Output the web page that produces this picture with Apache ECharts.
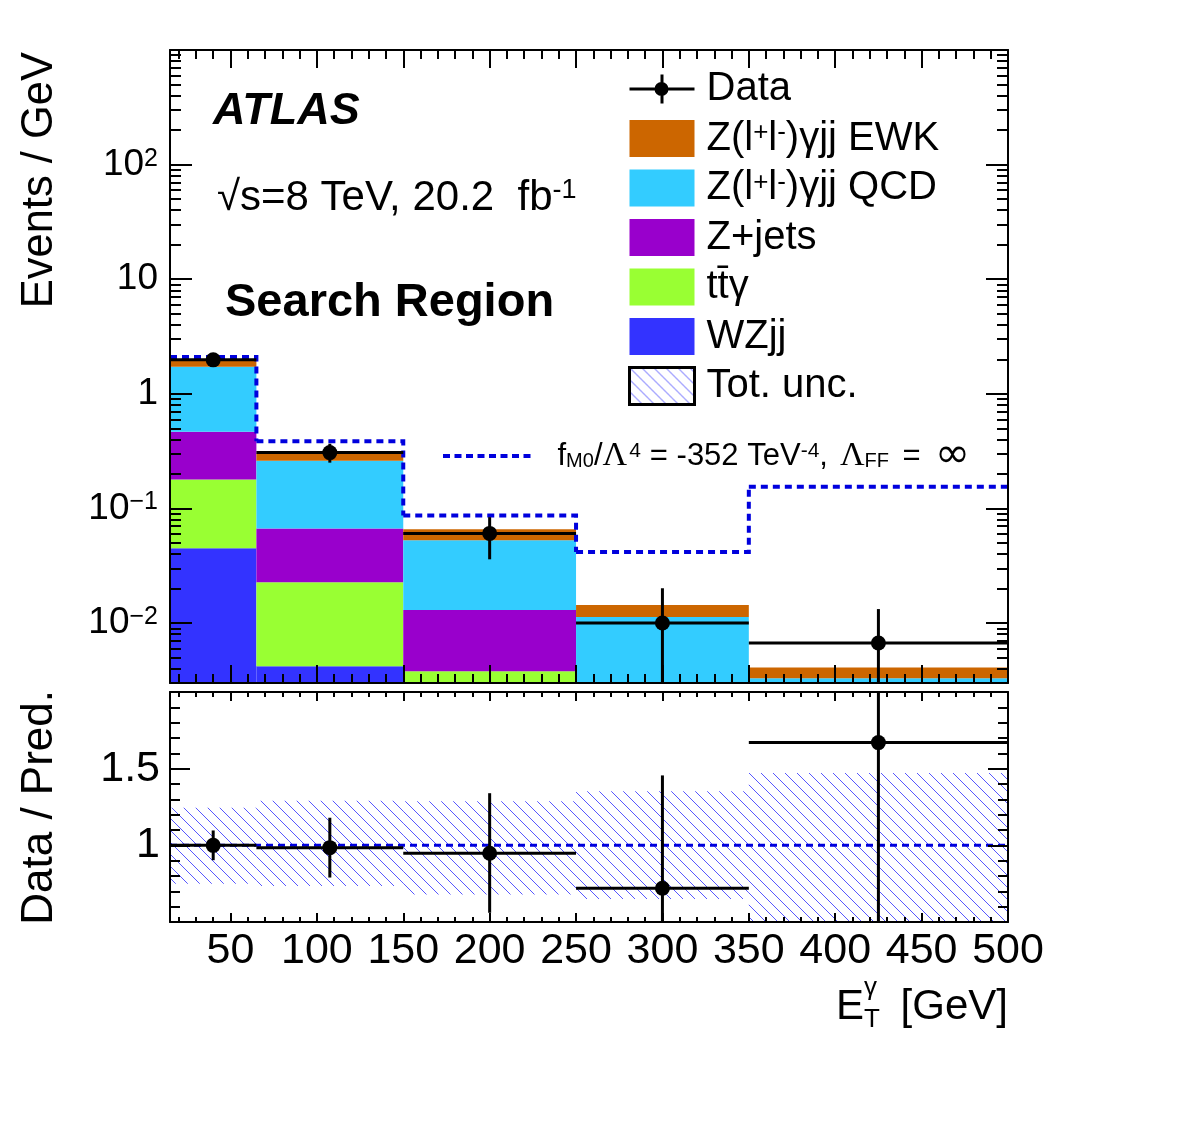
<!DOCTYPE html>
<html>
<head>
<meta charset="utf-8">
<script src="https://cdn.jsdelivr.net/npm/echarts@6/dist/echarts.min.js"></script>
<style>
  html, body { margin: 0; background: #fff; }
  #main { width: 1182px; height: 1144px; }
</style>
</head>
<body>
<div id="main"></div>
<script>
// E_T^gamma bins [GeV]
const binEdges = [15, 65, 150, 250, 350, 500];
const binCentres = [40, 107.5, 200, 300, 425];

// predictions, events / GeV, stacked bottom -> top
const wzjj    = [0.045, 0.0042, 0.001, 0.0003, 0.0001];
const ttgamma = [0.134, 0.0185, 0.0028, 0.0004, 0.0002];
const zjets   = [0.289, 0.0443, 0.0092, 0.001, 0.0004];
const zgQCD   = [1.252, 0.194, 0.0397, 0.0096, 0.0026];
const zgEWK   = [0.22, 0.039, 0.013, 0.0031, 0.0008];

// aQGC prediction, f_M0/L^4 = -352 TeV^-4
const aqgc = [2.1, 0.385, 0.0869, 0.0417, 0.155];

// data, events / GeV
const dataY  = [1.98, 0.307, 0.0606, 0.01, 0.0067];
const dataLo = [1.78, 0.251, 0.036, 0, 0];
const dataHi = [2.18, 0.367, 0.084, 0.0201, 0.01325];

// data / prediction
const ratioY  = [1.0, 0.985, 0.948, 0.72, 1.67];
const ratioLo = [0.903, 0.79, 0.56, 0, 0];
const ratioHi = [1.097, 1.18, 1.34, 1.456, 3.3];
// total uncertainty band (relative)
const uncLo = [0.75, 0.735, 0.68, 0.65, 0.45];
const uncHi = [1.245, 1.29, 1.288, 1.352, 1.472];

// ticks / labels
const xMajor = [50, 100, 150, 200, 250, 300, 350, 400, 450, 500];
const yLogMajor = [0.01, 0.1, 1, 10, 100, 1000];
const yLogLabelVals = [0.01, 0.1, 1, 10, 100];
const yLogLabelText = ['10{sup|\u22122}', '10{sup|\u22121}', '1', '10', '10{sup|2}'];
const yRatioMajor = [0.5, 1, 1.5, 2];
const yRatioLabels = [1, 1.5];

const FONT = '"Liberation Sans", Arial, Helvetica, sans-serif';
const SERIF = '"Liberation Serif", "DejaVu Serif", serif';
const BLUE = '#0000dd';
const chart = echarts.init(document.getElementById('main'));

// minor ticks (positions only)
const xMinor = [];
for (let v = 20; v < 500; v += 10) if (v % 50) xMinor.push(v);
const yLogMinor = [];
for (let e = -3; e <= 2; e++) for (let m = 2; m <= 9; m++) {
  const v = +(m * Math.pow(10, e)).toPrecision(3);
  if (v >= 0.003 && v <= 1000) yLogMinor.push(v);
}
const yRatioMinor = [];
for (let i = 6; i < 20; i++) if (i % 5) yRatioMinor.push(i / 10);

// hatch pattern for the uncertainty band
function hatch() {
  const c = document.createElement('canvas');
  c.width = 12; c.height = 12;
  const ctx = c.getContext('2d');
  ctx.strokeStyle = '#4444ff';
  ctx.lineWidth = 0.9;
  ctx.beginPath();
  ctx.moveTo(-2, -2); ctx.lineTo(14, 14);
  ctx.stroke();
  return { image: c, repeat: 'repeat' };
}
const hatchFill = hatch();

// two axes per side: one for major ticks, one for minor ticks
function sideAxes(grid, pos, o) {
  const base = {
    gridIndex: grid, position: pos, type: o.type, min: o.min, max: o.max,
    logBase: 10, splitLine: { show: false }, silent: true, z: 20
  };
  const major = Object.assign({}, base, {
    axisLine: { show: true, onZero: false, lineStyle: { color: '#000', width: 2 } },
    axisTick: { show: true, inside: true, length: o.majLen, customValues: o.majors, lineStyle: { color: '#000', width: 2 } },
    axisLabel: o.label ? o.label : { show: false }
  });
  const minor = Object.assign({}, base, {
    axisLine: { show: false },
    axisTick: { show: true, inside: true, length: o.minLen, customValues: o.minors, lineStyle: { color: '#000', width: 2 } },
    axisLabel: { show: false }
  });
  return [major, minor];
}

const xTop = { type: 'value', min: 15, max: 500, majors: xMajor, minors: xMinor, majLen: 18, minLen: 9 };
const xBot = { type: 'value', min: 15, max: 500, majors: xMajor, minors: xMinor, majLen: 9, minLen: 5 };
const yLog = { type: 'log', min: 0.003, max: 1000, majors: yLogMajor, minors: yLogMinor, majLen: 22, minLen: 11 };
const yRat = { type: 'value', min: 0.5, max: 2, majors: yRatioMajor, minors: yRatioMinor, majLen: 20, minLen: 10 };

const xLabel = {
  show: true, customValues: xMajor, margin: 8, color: '#000', fontSize: 43, fontFamily: FONT
};
const yLogLabel = {
  show: true, customValues: yLogLabelVals, margin: 12, color: '#000', fontSize: 37, fontFamily: FONT, lineHeight: 37,
  formatter: function (v) {
    const i = yLogLabelVals.findIndex(function (t) { return Math.abs(t - v) / t < 1e-6; });
    return i < 0 ? '' : yLogLabelText[i];
  },
  rich: { sup: { fontSize: 25, fontFamily: FONT, color: '#000', verticalAlign: 'top', lineHeight: 16 } }
};
const yRatLabel = {
  show: true, customValues: yRatioLabels, margin: 10, color: '#000', fontSize: 43, fontFamily: FONT,
  formatter: function (v) { return String(v); }
};

const xAxes = []
  .concat(sideAxes(0, 'bottom', xTop), sideAxes(0, 'top', xTop))
  .concat(sideAxes(1, 'bottom', Object.assign({}, xBot, { label: xLabel })), sideAxes(1, 'top', xBot));
const yAxes = []
  .concat(sideAxes(0, 'left', Object.assign({}, yLog, { label: yLogLabel })), sideAxes(0, 'right', yLog))
  .concat(sideAxes(1, 'left', Object.assign({}, yRat, { label: yRatLabel })), sideAxes(1, 'right', yRat));
// majors first on each grid (0..3 grid 0, 4..7 grid 1)
function order(a) { return [a[0], a[2], a[1], a[3], a[4], a[6], a[5], a[7]]; }

// stacked histogram components
const components = [
  { name: 'WZjj', color: '#3333ff', vals: wzjj },
  { name: 'ttg', color: '#99ff33', vals: ttgamma },
  { name: 'Zjets', color: '#9900cc', vals: zjets },
  { name: 'QCD', color: '#33ccff', vals: zgQCD },
  { name: 'EWK', color: '#cc6600', vals: zgEWK }
];
const cum = binCentres.map(function () { return 0; });
const stackSeries = components.map(function (c) {
  const rows = c.vals.map(function (v, i) {
    const lo = cum[i] || 1e-4;
    cum[i] += v;
    return [binEdges[i], binEdges[i + 1], lo, cum[i]];
  });
  return {
    name: c.name, type: 'custom', xAxisIndex: 0, yAxisIndex: 0, clip: true, z: 2,
    itemStyle: { color: c.color },
    encode: { x: [0, 1], y: 3 },
    data: rows,
    renderItem: function (params, api) {
      const p0 = api.coord([api.value(0), api.value(3)]);
      const p1 = api.coord([api.value(1), api.value(2)]);
      return { type: 'rect', shape: { x: p0[0], y: p0[1], width: p1[0] - p0[0], height: p1[1] - p0[1] },
        style: { fill: c.color } };
    }
  };
});

function pointRenderer(floor) {
  return function (params, api) {
    const x = api.value(0), y = api.value(1);
    const c = api.coord([x, y]);
    const l = api.coord([api.value(4), y]);
    const r = api.coord([api.value(5), y]);
    const t = api.coord([x, api.value(3)]);
    const b = api.coord([x, Math.max(api.value(2), floor)]);
    return { type: 'group', children: [
      { type: 'line', shape: { x1: l[0], y1: c[1], x2: r[0], y2: c[1] }, style: { stroke: '#000', lineWidth: 3 } },
      { type: 'line', shape: { x1: c[0], y1: t[1], x2: c[0], y2: b[1] }, style: { stroke: '#000', lineWidth: 3 } },
      { type: 'circle', shape: { cx: c[0], cy: c[1], r: 7.5 }, style: { fill: '#000' } }
    ] };
  };
}

const dataRows = binCentres.map(function (x, i) {
  return [x, dataY[i], dataLo[i], dataHi[i], binEdges[i], binEdges[i + 1]];
});
const ratioRows = binCentres.map(function (x, i) {
  return [x, ratioY[i], ratioLo[i], ratioHi[i], binEdges[i], binEdges[i + 1]];
});
// step histogram: [lowEdge, highEdge, value, nextValue]
const aqgcRows = aqgc.map(function (v, i) {
  return [binEdges[i], binEdges[i + 1], v, i + 1 < aqgc.length ? aqgc[i + 1] : v];
});
const uncRows = binCentres.map(function (x, i) { return [binEdges[i], binEdges[i + 1], uncLo[i], uncHi[i]]; });

const legendText = {
  Data: 'Data',
  EWK: 'Z(l{sup|+}l{sup|-})\u03b3jj EWK',
  QCD: 'Z(l{sup|+}l{sup|-})\u03b3jj QCD',
  Zjets: 'Z+jets',
  ttg: 't\u0074\u0304\u03b3',
  WZjj: 'WZjj',
  unc: 'Tot. unc.'
};
const dashIcon = 'path://M0,0h7v4h-7z M11.5,0h7v4h-7z M23,0h7v4h-7z M34.5,0h7v4h-7z M46,0h7v4h-7z M57.5,0h7v4h-7z M69,0h7v4h-7z M80.5,0h7v4h-7z';

const option = {
  backgroundColor: '#fff',
  animation: false,
  grid: [
    { left: 170, top: 50, width: 838, height: 633, outerBoundsMode: 'none' },
    { left: 170, top: 692, width: 838, height: 230, outerBoundsMode: 'none' }
  ],
  xAxis: order(xAxes),
  yAxis: order(yAxes),
  legend: [
    {
      left: 628, top: 69, orient: 'vertical', selectedMode: false, padding: 0,
      itemWidth: 65, itemHeight: 37, itemGap: 9.5,
      textStyle: { fontSize: 40, fontFamily: FONT, color: '#000', lineHeight: 37, padding: [0, 0, 0, 7],
        rich: { sup: { fontSize: 26, fontFamily: FONT, color: '#000', verticalAlign: 'top', lineHeight: 20 } } },
      formatter: function (n) { return legendText[n]; },
      data: [
        { name: 'Data', icon: 'path://M0,0h0.01v0.01h-0.01z M0,36.99h0.01v0.01h-0.01z M0,17h65v3h-65z M31,4h3v29h-3z M25,18.5a7,7 0 1,1 14,0a7,7 0 1,1 -14,0z' },
        { name: 'EWK', icon: 'rect' },
        { name: 'QCD', icon: 'rect' },
        { name: 'Zjets', icon: 'rect' },
        { name: 'ttg', icon: 'rect' },
        { name: 'WZjj', icon: 'rect' },
        { name: 'unc', icon: 'rect', itemStyle: { color: hatchFill, borderColor: '#000', borderWidth: 3 } }
      ]
    },
    {
      left: 443, top: 435, orient: 'vertical', selectedMode: false, padding: 0,
      itemWidth: 87.5, itemHeight: 4,
      textStyle: { fontSize: 31, fontFamily: FONT, color: '#000', lineHeight: 30, padding: [0, 0, 0, 22],
        rich: {
          sup: { fontSize: 21, fontFamily: FONT, color: '#000', verticalAlign: 'top', lineHeight: 14 },
          supg: { fontSize: 21, fontFamily: FONT, color: '#000', verticalAlign: 'top', lineHeight: 14, padding: [0, 9, 0, 2] },
          sub: { fontSize: 20, fontFamily: FONT, color: '#000', verticalAlign: 'bottom', lineHeight: 14 },
          subg: { fontSize: 20, fontFamily: FONT, color: '#000', verticalAlign: 'bottom', lineHeight: 14, padding: [0, 5, 0, 0] },
          gr: { fontSize: 34, fontFamily: SERIF, color: '#000', lineHeight: 30 },
          grg: { fontSize: 34, fontFamily: SERIF, color: '#000', lineHeight: 30, padding: [0, 0, 0, 12] },
          inf: { fontSize: 42, fontFamily: '"DejaVu Sans", sans-serif', color: '#000', lineHeight: 30, padding: [0, 0, 0, 14] }
        } },
      formatter: function () {
        return 'f{sub|M0}/{gr|\u039b}{supg|4}= -352 TeV{sup|-4},{grg|\u039b}{subg|FF} ={inf|\u221e}';
      },
      data: [{ name: 'aQGC', icon: dashIcon }]
    }
  ],
  series: stackSeries.concat([
    {
      name: 'aQGC', type: 'custom', xAxisIndex: 0, yAxisIndex: 0, clip: true, z: 4,
      itemStyle: { color: BLUE }, encode: { x: [0, 1], y: 2 },
      data: aqgcRows,
      renderItem: function (params, api) {
        const a = api.coord([api.value(0), api.value(2)]);
        const b = api.coord([api.value(1), api.value(2)]);
        const pts = [a, b];
        if (params.dataIndex < aqgc.length - 1) pts.push(api.coord([api.value(1), api.value(3)]));
        return { type: 'polyline', shape: { points: pts },
          style: { stroke: BLUE, lineWidth: 4, lineDash: [7, 5], fill: null } };
      }
    },
    {
      name: 'Data', type: 'custom', xAxisIndex: 0, yAxisIndex: 0, clip: true, z: 6,
      itemStyle: { color: '#000' }, encode: { x: 0, y: 1 },
      data: dataRows, renderItem: pointRenderer(1e-4)
    },
    {
      name: 'unc', type: 'custom', xAxisIndex: 4, yAxisIndex: 4, clip: true, z: 2,
      itemStyle: { color: hatchFill }, encode: { x: [0, 1], y: [2, 3] },
      data: uncRows,
      renderItem: function (params, api) {
        const p0 = api.coord([api.value(0), api.value(3)]);
        const p1 = api.coord([api.value(1), api.value(2)]);
        return { type: 'rect', shape: { x: p0[0], y: p0[1], width: p1[0] - p0[0], height: p1[1] - p0[1] },
          style: { fill: hatchFill } };
      }
    },
    {
      name: 'unity', type: 'line', xAxisIndex: 4, yAxisIndex: 4, z: 4, symbol: 'none',
      data: [[binEdges[0], 1], [binEdges[binEdges.length - 1], 1]],
      lineStyle: { color: BLUE, width: 3, type: [7, 5] }
    },
    {
      name: 'Ratio', type: 'custom', xAxisIndex: 4, yAxisIndex: 4, clip: true, z: 6,
      itemStyle: { color: '#000' }, encode: { x: 0, y: 1 },
      data: ratioRows, renderItem: pointRenderer(-10)
    }
  ]),
  graphic: [
    { type: 'text', x: 213, y: 112, style: { text: 'ATLAS', fontSize: 45, fontWeight: 'bold', fontStyle: 'italic', fontFamily: FONT, fill: '#000', verticalAlign: 'middle' } },
    { type: 'text', x: 217, y: 198, style: { text: '\u221as=8 TeV, 20.2  fb{sup|-1}', fontSize: 42, fontFamily: FONT, fill: '#000', verticalAlign: 'middle',
      rich: { sup: { fontSize: 27, fontFamily: FONT, fill: '#000', verticalAlign: 'top', lineHeight: 20 } } } },
    { type: 'text', x: 225, y: 303, style: { text: 'Search Region', fontSize: 47, fontWeight: 'bold', fontFamily: FONT, fill: '#000', verticalAlign: 'middle' } },
    { type: 'text', x: 40, y: 52, rotation: Math.PI / 2, style: { text: 'Events / GeV', fontSize: 43.5, fontFamily: FONT, fill: '#000', align: 'right', verticalAlign: 'middle' } },
    { type: 'text', x: 40, y: 690, rotation: Math.PI / 2, style: { text: 'Data / Pred.', fontSize: 44, fontFamily: FONT, fill: '#000', align: 'right', verticalAlign: 'middle' } },
    { type: 'text', x: 1008, y: 1007, style: { text: '[GeV]', fontSize: 42, fontFamily: FONT, fill: '#000', align: 'right', verticalAlign: 'middle' } },
    { type: 'text', x: 836, y: 1007, style: { text: 'E', fontSize: 42, fontFamily: FONT, fill: '#000', verticalAlign: 'middle' } },
    { type: 'text', x: 864, y: 1020, style: { text: 'T', fontSize: 26, fontFamily: FONT, fill: '#000', verticalAlign: 'middle' } },
    { type: 'text', x: 864, y: 988, style: { text: '\u03b3', fontSize: 26, fontFamily: FONT, fill: '#000', verticalAlign: 'middle' } }
  ]
};
chart.setOption(option);
</script>
</body>
</html>
